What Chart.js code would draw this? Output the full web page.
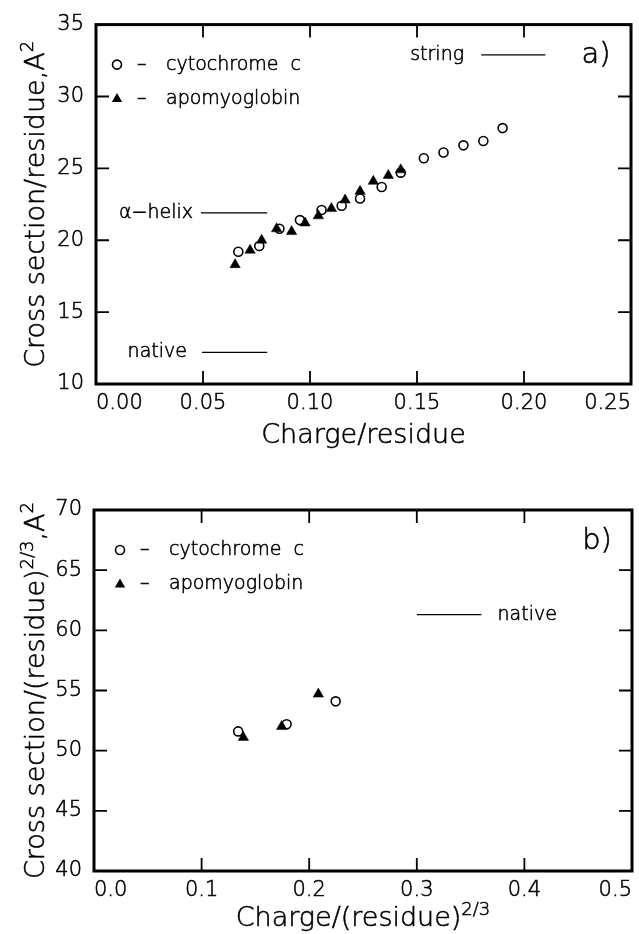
<!DOCTYPE html>
<html>
<head>
<meta charset="utf-8">
<script src="https://cdn.jsdelivr.net/npm/chart.js@4.4.0/dist/chart.umd.min.js"></script>
<style>
  html, body { margin:0; padding:0; background:#fff; }
  #wrap { position:relative; width:639px; height:934px; overflow:hidden; }
  canvas { position:absolute; left:0; }
  #panelA { top:0; }
  #panelB { top:460px; }
</style>
</head>
<body>
<div id="wrap">
  <canvas id="panelA" width="639" height="460"></canvas>
  <canvas id="panelB" width="639" height="474"></canvas>
</div>
<script>
// ---- panel a) cross section per residue vs charge per residue
const cytoChargeA = [0.0665, 0.0763, 0.0857, 0.0953, 0.1054, 0.1148, 0.1234, 0.1335, 0.1424, 0.1532, 0.1624, 0.1717, 0.1810, 0.1900];
const cytoCrossA  = [19.2, 19.6, 20.8, 21.4, 22.1, 22.4, 22.9, 23.7, 24.7, 25.7, 26.1, 26.6, 26.9, 27.8];
const apoChargeA  = [0.0650, 0.0720, 0.0774, 0.0844, 0.0914, 0.0977, 0.1039, 0.1100, 0.1164, 0.1234, 0.1296, 0.1366, 0.1424];
const apoCrossA   = [18.3, 19.3, 20.0, 20.8, 20.6, 21.2, 21.7, 22.2, 22.8, 23.4, 24.1, 24.5, 24.9];
const refNamesA   = ['string', 'α−helix', 'native'];
const refCrossA   = [32.9, 21.9, 12.2];
const refFromA    = [0.180, 0.049, 0.0495];
const refToA      = [0.210, 0.080, 0.080];
const refLabelXA  = [0.172, 0.0453, 0.0425];   // label ends here (left of line)
const xTicksA     = [0, 0.05, 0.10, 0.15, 0.20, 0.25];
const yTicksA     = [10, 15, 20, 25, 30, 35];

// ---- panel b) normalised by residue^(2/3)
const cytoChargeB = [0.134, 0.179, 0.2246];
const cytoCrossB  = [51.6, 52.2, 54.1];
const apoChargeB  = [0.1388, 0.1744, 0.2085];
const apoCrossB   = [51.1, 52.0, 54.7];
const refNamesB   = ['native'];
const refCrossB   = [61.3];
const refFromB    = [0.300];
const refToB      = [0.360];
const refLabelXB  = [0.375];                   // label starts here (right of line)
const xTicksB     = [0, 0.1, 0.2, 0.3, 0.4, 0.5];
const yTicksB     = [40, 45, 50, 55, 60, 65, 70];

const FONT = "'DejaVu Sans', sans-serif";
const W = '200 ';        // thin face, thickened a little with a stroke
const TSTROKE = 0.55;
Chart.defaults.font.family = FONT;
Chart.defaults.font.weight = '200';
Chart.defaults.color = '#000';

function pts(xs, ys){ return xs.map((x,i)=>({x, y:ys[i]})); }

function txt(ctx, s, x, y){ ctx.fillText(s, x, y); ctx.strokeText(s, x, y); }

// text with superscript pieces: parts = [[text, isSup], ...]
function supFont(size, sup){ return W + (sup ? Math.round(size*0.66) : size) + 'px ' + FONT; }
function richWidth(ctx, parts, size){
  let w = 0;
  parts.forEach(([t,sup])=>{ ctx.font = supFont(size, sup); w += ctx.measureText(t).width; });
  return w;
}
function drawRich(ctx, parts, x, y, size){
  let cx = x;
  parts.forEach(([t,sup])=>{
    ctx.font = supFont(size, sup);
    txt(ctx, t, cx, sup ? y - size*0.42 : y);
    cx += ctx.measureText(t).width;
  });
}

function marker(ctx, style, x, y){
  ctx.save();
  ctx.lineWidth = 1.6; ctx.strokeStyle = '#000'; ctx.fillStyle = '#000';
  if(style==='circle'){
    ctx.beginPath(); ctx.arc(x, y, 4.5, 0, Math.PI*2); ctx.fillStyle='#fff'; ctx.fill(); ctx.stroke();
  } else {
    const r = 6;
    ctx.beginPath();
    ctx.moveTo(x, y - r); ctx.lineTo(x + r*0.866, y + r/2); ctx.lineTo(x - r*0.866, y + r/2);
    ctx.closePath(); ctx.fill();
  }
  ctx.restore();
}

function framePlugin(cfg){
  return {
    id:'frame',
    afterDatasetsDraw(chart){
      const ctx = chart.ctx, a = chart.chartArea;
      const xs = chart.scales.x, ys = chart.scales.y;
      ctx.save();
      // box
      ctx.strokeStyle = '#000'; ctx.lineWidth = 3;
      ctx.strokeRect(a.left, a.top, a.right - a.left, a.bottom - a.top);
      // inner ticks on all four sides
      ctx.lineWidth = 1.8;
      ctx.beginPath();
      cfg.xTicks.slice(1, -1).forEach(v=>{
        const px = xs.getPixelForValue(v);
        ctx.moveTo(px, a.bottom); ctx.lineTo(px, a.bottom - 13);
        ctx.moveTo(px, a.top); ctx.lineTo(px, a.top + 13);
      });
      cfg.yTicks.slice(1, -1).forEach(v=>{
        const py = ys.getPixelForValue(v);
        ctx.moveTo(a.left, py); ctx.lineTo(a.left + 13, py);
        ctx.moveTo(a.right, py); ctx.lineTo(a.right - 13, py);
      });
      ctx.stroke();

      ctx.fillStyle = '#000';
      ctx.lineWidth = TSTROKE;
      ctx.textBaseline = 'middle';
      // labels of reference lines
      ctx.font = W + '19px ' + FONT;
      cfg.refNames.forEach((n,i)=>{
        ctx.textAlign = cfg.refSide === 'left' ? 'right' : 'left';
        txt(ctx, n, xs.getPixelForValue(cfg.refLabelX[i]), ys.getPixelForValue(cfg.refCross[i]));
      });
      // legend
      ctx.textAlign = 'left';
      const rows = [['circle','cytochrome  c'], ['triangle','apomyoglobin']];
      rows.forEach(([st, t], i)=>{
        const y = a.top + 40 + i*34.5;
        marker(ctx, st, a.left + cfg.legX, y);
        ctx.lineWidth = TSTROKE;
        ctx.font = W + '19px ' + FONT;
        txt(ctx, '–', a.left + cfg.legX + 20, y);
        txt(ctx, t, a.left + cfg.legX + 49, y);
      });
      // panel letter
      ctx.font = W + '29px ' + FONT;
      ctx.textAlign = 'center';
      txt(ctx, cfg.letter, a.right - 35, a.top + 31);

      // axis titles
      ctx.textBaseline = 'alphabetic';
      ctx.textAlign = 'left';
      const ts = 27;
      const wx = richWidth(ctx, cfg.xTitle, ts);
      drawRich(ctx, cfg.xTitle, (a.left + a.right)/2 - wx/2, cfg.xTitleY, ts);
      ctx.save();
      ctx.translate(cfg.yTitleX, (a.top + a.bottom)/2);
      ctx.rotate(-Math.PI/2);
      const wy = richWidth(ctx, cfg.yTitle, ts);
      drawRich(ctx, cfg.yTitle, -wy/2, 0, ts);
      ctx.restore();
      ctx.restore();
    }
  };
}

function makePanel(canvas, cfg){
  const refSets = cfg.refNames.map((n,i)=>({
    type:'line', label:n,
    data:[{x:cfg.refFrom[i], y:cfg.refCross[i]}, {x:cfg.refTo[i], y:cfg.refCross[i]}],
    borderColor:'#000', borderWidth:1.3, pointRadius:0, showLine:true, fill:false
  }));
  const tickFont = { size:21, weight:'200' };
  return new Chart(canvas, {
    type:'scatter',
    data:{ datasets:[
      { label:'apomyoglobin', data:pts(cfg.apoX, cfg.apoY), pointStyle:'triangle', pointRadius:6,
        backgroundColor:'#000', borderColor:'#000', borderWidth:0.5 },
      { label:'cytochrome c', data:pts(cfg.cytoX, cfg.cytoY), pointStyle:'circle', pointRadius:4.5,
        backgroundColor:'#fff', borderColor:'#000', borderWidth:1.6 },
      ...refSets
    ]},
    options:{
      responsive:false, animation:false, devicePixelRatio:1, events:[],
      layout:{ padding:{ left:0, top:cfg.top, right:cfg.right, bottom:0 } },
      plugins:{ legend:{display:false}, tooltip:{enabled:false} },
      scales:{
        x:{ type:'linear', min:cfg.xTicks[0], max:cfg.xTicks[cfg.xTicks.length-1],
            afterBuildTicks:s=>{ s.ticks = cfg.xTicks.map(v=>({value:v})); },
            afterFit:s=>{ s.height = cfg.xh; },
            ticks:{ font:tickFont, padding:7, align:'inner', maxRotation:0, autoSkip:false,
                    textStrokeColor:'#000', textStrokeWidth:TSTROKE,
                    callback:v=>Number(v).toFixed(cfg.xDec) },
            grid:{ display:false, drawTicks:false }, border:{ display:false } },
        y:{ type:'linear', min:cfg.yTicks[0], max:cfg.yTicks[cfg.yTicks.length-1],
            afterBuildTicks:s=>{ s.ticks = cfg.yTicks.map(v=>({value:v})); },
            afterFit:s=>{ s.width = cfg.left; },
            ticks:{ font:tickFont, padding:12, autoSkip:false,
                    textStrokeColor:'#000', textStrokeWidth:TSTROKE, callback:v=>String(v) },
            grid:{ display:false, drawTicks:false }, border:{ display:false } }
      }
    },
    plugins:[framePlugin(cfg)]
  });
}

makePanel(document.getElementById('panelA'), {
  cytoX:cytoChargeA, cytoY:cytoCrossA, apoX:apoChargeA, apoY:apoCrossA,
  refNames:refNamesA, refCross:refCrossA, refFrom:refFromA, refTo:refToA, refLabelX:refLabelXA, refSide:'left',
  xTicks:xTicksA, yTicks:yTicksA, xDec:2,
  top:23, right:8, left:96, xh:76, legX:21, letter:'a)',
  xTitle:[['Charge/residue', false]], xTitleY:443,
  yTitle:[['Cross section/residue,A', false], ['2', true]], yTitleX:44
});

makePanel(document.getElementById('panelB'), {
  cytoX:cytoChargeB, cytoY:cytoCrossB, apoX:apoChargeB, apoY:apoCrossB,
  refNames:refNamesB, refCross:refCrossB, refFrom:refFromB, refTo:refToB, refLabelX:refLabelXB, refSide:'right',
  xTicks:xTicksB, yTicks:yTicksB, xDec:1,
  top:50, right:7, left:94, xh:63, legX:26, letter:'b)',
  xTitle:[['Charge/(residue)', false], ['2/3', true]], xTitleY:466,
  yTitle:[['Cross section/(residue)', false], ['2/3', true], [',A', false], ['2', true]], yTitleX:44
});
</script>
</body>
</html>
